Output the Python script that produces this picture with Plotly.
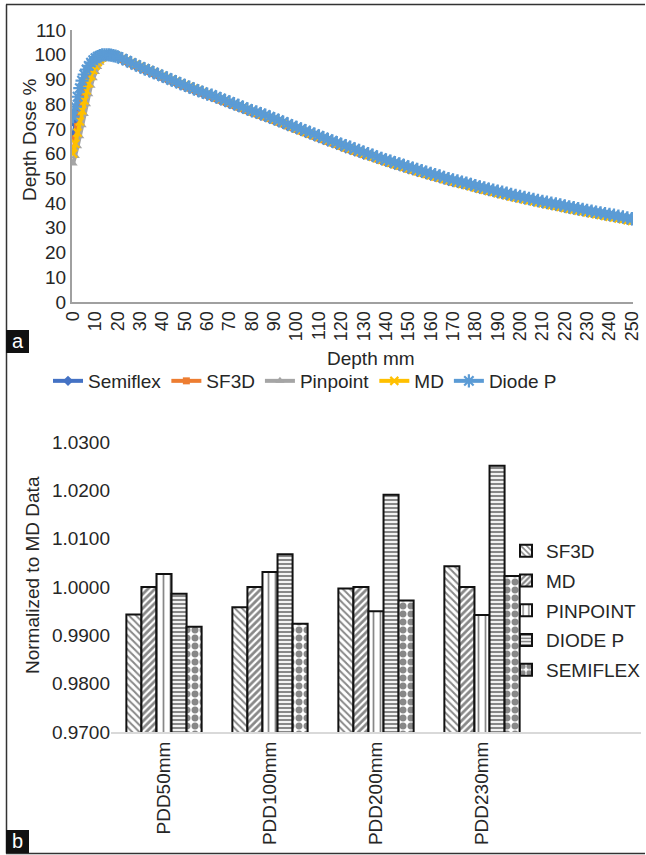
import plotly.graph_objects as go

W, H = 646, 855
FONT = "Liberation Sans, Arial, sans-serif"
TXT = "#262626"

# ---------------- Panel a: depth dose curves ----------------
depth = list(range(0, 21)) + list(range(22, 251, 2))

semiflex = [67, 72, 77, 82, 86, 89, 91.5, 93.5, 95, 96.3, 97.3, 98.2, 98.8, 99.3, 99.7, 99.9, 100, 99.9, 99.7, 99.4, 99.1,
            97.9, 97.1, 96.2, 95.4, 94.6, 93.8, 93.1, 92.3, 91.6, 90.8, 90.1, 89.3, 88.6, 87.8, 87.1,
            86.4, 85.7, 85.0, 84.3, 83.6, 82.9, 82.2, 81.5, 80.8, 80.1, 79.4, 78.7, 78.0, 77.3, 76.6,
            76.0, 75.3, 74.7, 74.0, 73.3, 72.6, 71.9, 71.1, 70.4, 69.7, 69.0, 68.3, 67.6, 66.9, 66.2,
            65.5, 64.8, 64.2, 63.5, 62.8, 62.1, 61.5, 60.8, 60.2, 59.5, 59.1, 58.5, 57.8, 57.2, 56.6,
            56.0, 55.4, 54.9, 54.3, 53.7, 53.2, 52.6, 52.1, 51.5, 51.0, 50.5, 50.0, 49.4, 48.9, 48.4,
            48.1, 47.6, 47.2, 46.7, 46.2, 45.7, 45.3, 44.8, 44.4, 43.9, 43.5, 43.1, 42.6, 42.2, 41.8,
            41.4, 41.0, 40.6, 40.2, 39.8, 39.5, 39.1, 38.8, 38.4, 38.0, 37.6, 37.3, 36.9, 36.6, 36.2,
            36.0, 35.6, 35.3, 34.9, 34.6, 34.3, 33.9, 33.6, 33.2, 32.9]

sf3d = [61, 66, 71, 76, 80.5, 84.5, 88, 91, 93.3, 95.2, 96.7, 97.9, 98.8, 99.4, 99.8, 100, 100, 99.8, 99.5, 99.2, 98.9,
        98.1, 97.3, 96.4, 95.6, 94.8, 94.0, 93.3, 92.5, 91.8, 91.0, 90.3, 89.5, 88.8, 88.0, 87.3,
        86.6, 85.9, 85.2, 84.5, 83.8, 83.1, 82.4, 81.7, 81.0, 80.3, 79.6, 78.9, 78.2, 77.5, 76.8,
        76.2, 75.5, 74.9, 74.2, 73.5, 72.8, 72.1, 71.3, 70.6, 69.9, 69.2, 68.5, 67.8, 67.1, 66.4,
        65.7, 65.0, 64.4, 63.7, 63.0, 62.3, 61.7, 61.0, 60.4, 59.7, 59.2, 58.6, 57.9, 57.3, 56.7,
        56.1, 55.5, 55.0, 54.4, 53.8, 53.3, 52.7, 52.2, 51.6, 51.1, 50.6, 50.1, 49.5, 49.0, 48.5,
        48.1, 47.6, 47.2, 46.7, 46.2, 45.7, 45.3, 44.8, 44.4, 43.9, 43.5, 43.1, 42.6, 42.2, 41.8,
        41.5, 41.1, 40.7, 40.3, 39.9, 39.5, 39.1, 38.8, 38.4, 38.0, 37.7, 37.4, 37.0, 36.7, 36.3,
        36.0, 35.6, 35.3, 34.9, 34.6, 34.3, 33.9, 33.6, 33.2, 32.9]

pinpoint = [56, 59, 63, 67, 71.5, 76, 80, 84, 87.5, 90.5, 93, 95, 96.8, 98, 99, 99.6, 100, 100, 99.9, 99.7, 99.5,
            98.7, 97.9, 97.0, 96.2, 95.4, 94.6, 93.9, 93.1, 92.4, 91.6, 90.9, 90.1, 89.4, 88.6, 87.9,
            87.2, 86.5, 85.8, 85.1, 84.4, 83.7, 83.0, 82.3, 81.6, 80.9, 80.2, 79.5, 78.8, 78.1, 77.4,
            76.7, 76.0, 75.4, 74.7, 74.0, 73.3, 72.6, 71.8, 71.1, 70.4, 69.7, 69.0, 68.3, 67.6, 66.9,
            66.2, 65.5, 64.9, 64.2, 63.5, 62.8, 62.2, 61.5, 60.9, 60.2, 59.4, 58.8, 58.1, 57.5, 56.9,
            56.3, 55.7, 55.2, 54.6, 54.0, 53.5, 52.9, 52.4, 51.8, 51.3, 50.8, 50.3, 49.7, 49.2, 48.7,
            48.0, 47.5, 47.1, 46.6, 46.1, 45.6, 45.2, 44.7, 44.3, 43.8, 43.4, 43.0, 42.5, 42.1, 41.7,
            41.3, 40.9, 40.5, 40.1, 39.7, 39.3, 38.9, 38.6, 38.2, 37.8, 37.4, 37.1, 36.7, 36.4, 36.0,
            35.7, 35.3, 35.0, 34.6, 34.3, 34.0, 33.6, 33.3, 32.9, 32.6]

md = [60, 64, 68.5, 73, 77.5, 81.5, 85.5, 88.5, 91.5, 93.7, 95.5, 97, 98.2, 99, 99.6, 99.9, 100, 99.9, 99.8, 99.6, 99.3,
      98.5, 97.7, 96.8, 96.0, 95.2, 94.4, 93.7, 92.9, 92.2, 91.4, 90.7, 89.9, 89.2, 88.4, 87.7,
      87.0, 86.3, 85.6, 84.9, 84.2, 83.5, 82.8, 82.1, 81.4, 80.7, 80.0, 79.3, 78.6, 77.9, 77.2,
      76.5, 75.8, 75.2, 74.5, 73.8, 73.1, 72.4, 71.6, 70.9, 70.2, 69.5, 68.8, 68.1, 67.4, 66.7,
      66.0, 65.3, 64.7, 64.0, 63.3, 62.6, 62.0, 61.3, 60.7, 60.0, 59.4, 58.8, 58.1, 57.5, 56.9,
      56.3, 55.7, 55.2, 54.6, 54.0, 53.5, 52.9, 52.4, 51.8, 51.3, 50.8, 50.3, 49.7, 49.2, 48.7,
      48.2, 47.7, 47.3, 46.8, 46.3, 45.8, 45.4, 44.9, 44.5, 44.0, 43.6, 43.2, 42.7, 42.3, 41.9,
      41.5, 41.1, 40.7, 40.3, 39.9, 39.5, 39.1, 38.8, 38.4, 38.0, 37.6, 37.3, 36.9, 36.6, 36.2,
      35.9, 35.5, 35.2, 34.8, 34.5, 34.2, 33.8, 33.5, 33.1, 32.8]

diode_p = [75, 79, 83, 86.5, 89.5, 92, 94, 95.5, 96.8, 97.8, 98.6, 99.2, 99.6, 99.9, 100, 100, 99.9, 99.8, 99.6, 99.4, 99.1,
           98.4, 97.6, 96.7, 95.9, 95.1, 94.3, 93.6, 92.8, 92.1, 91.3, 90.6, 89.8, 89.1, 88.3, 87.6,
           86.9, 86.2, 85.5, 84.8, 84.1, 83.7, 83.0, 82.3, 81.6, 80.9, 80.2, 79.5, 78.8, 78.1, 77.4,
           76.9, 76.2, 75.6, 74.9, 74.2, 73.5, 72.8, 72.0, 71.3, 70.6, 70.0, 69.3, 68.6, 67.9, 67.2,
           66.5, 65.8, 65.2, 64.5, 63.8, 63.2, 62.6, 61.9, 61.3, 60.6, 60.0, 59.4, 58.7, 58.1, 57.5,
           57.0, 56.4, 55.9, 55.3, 54.7, 54.2, 53.6, 53.1, 52.5, 52.0, 51.5, 51.0, 50.4, 49.9, 49.4,
           49.0, 48.5, 48.1, 47.6, 47.1, 46.6, 46.2, 45.7, 45.3, 44.8, 44.4, 44.0, 43.5, 43.1, 42.7,
           42.3, 41.9, 41.5, 41.1, 40.7, 40.4, 40.0, 39.7, 39.3, 38.9, 38.5, 38.2, 37.8, 37.5, 37.1,
           36.8, 36.4, 36.1, 35.7, 35.4, 35.1, 34.7, 34.4, 34.0, 33.7]

top_series = [
    ("Semiflex", semiflex, "#4472C4", "diamond", 8),
    ("SF3D", sf3d, "#ED7D31", "square", 7),
    ("Pinpoint", pinpoint, "#A5A5A5", "triangle-up", 8),
    ("MD", md, "#FFC000", "x-thin-open", 8),
    ("Diode P", diode_p, "#5B9BD5", "asterisk-open", 11),
]
depth_ticks = list(range(0, 251, 10))

# ---------------- Panel b: normalized bars ----------------
pdd_labels = ["PDD50mm", "PDD100mm", "PDD200mm", "PDD230mm"]
b_sf3d = [0.9943, 0.9958, 0.9997, 1.0043]
b_md = [1.0000, 1.0000, 1.0000, 1.0000]
b_pinpoint = [1.0027, 1.0031, 0.9950, 0.9942]
b_diode = [0.9986, 1.0068, 1.0191, 1.0251]
b_semiflex = [0.9918, 0.9924, 0.9972, 1.0023]

bar_series = [
    ("SF3D", b_sf3d, dict(shape="\\", size=5, solidity=0.4)),
    ("MD", b_md, dict(shape="/", size=5, solidity=0.55)),
    ("PINPOINT", b_pinpoint, dict(shape="|", size=7, solidity=0.25)),
    ("DIODE P", b_diode, dict(shape="-", size=4, solidity=0.55)),
    ("SEMIFLEX", b_semiflex, dict(shape=".", size=8, solidity=0.6)),
]


def px(x):
    return x / W


def py(y):
    return 1 - y / H


fig = go.Figure()

for name, vals, col, sym, sz in top_series:
    marker = dict(symbol=sym, size=sz, color=col)
    if sym.endswith("open"):
        marker["line"] = dict(width=2.2, color=col)
    fig.add_trace(go.Scatter(
        x=depth, y=vals, name=name, mode="lines+markers",
        line=dict(color=col, width=4), marker=marker,
        xaxis="x", yaxis="y", legend="legend"))

for i, (name, vals, pat) in enumerate(bar_series):
    fig.add_trace(go.Bar(
        x=list(range(len(pdd_labels))), y=vals, name=name,
        marker=dict(color="white", line=dict(color="#111111", width=2),
                    pattern=dict(fgcolor="#111111", bgcolor="white", fillmode="overlay", **pat)),
        xaxis="x2", yaxis="y2", legend="legend2", legendgroup=name))

axis_font = dict(family=FONT, size=19, color=TXT)

fig.update_layout(
    width=W, height=H,
    margin=dict(l=0, r=0, t=0, b=0, pad=0, autoexpand=False),
    paper_bgcolor="white", plot_bgcolor="white",
    font=dict(family=FONT, size=19, color=TXT),
    barmode="group", bargap=0.29, bargroupgap=0,
    xaxis=dict(domain=[px(72), px(633)], range=[-0.5, 250.5], tickvals=depth_ticks,
               tickangle=-90, tickfont=dict(family=FONT, size=18, color=TXT),
               showline=True, linecolor="#A0A0A0", linewidth=2, showgrid=False,
               zeroline=False, ticks="", anchor="y", automargin=False),
    yaxis=dict(domain=[py(302), py(30)], range=[0, 110], dtick=10,
               tickfont=axis_font, showline=True, linecolor="#A0A0A0", linewidth=2,
               showgrid=False, zeroline=False, ticks="", anchor="x", automargin=False),
    xaxis2=dict(domain=[px(111), px(641)], range=[-0.5, 4.5], tickvals=[0, 1, 2, 3],
                ticktext=pdd_labels, tickangle=-90, tickfont=axis_font,
                showline=True, linecolor="#D9D9D9", linewidth=2, showgrid=False,
                zeroline=False, ticks="", anchor="y2", automargin=False),
    yaxis2=dict(domain=[py(732), py(442)], range=[0.97, 1.03], dtick=0.01, tickformat=".4f",
                tickfont=axis_font, showline=False, showgrid=False, zeroline=False,
                ticks="", anchor="x2", automargin=False),
    legend=dict(orientation="h", x=px(48), y=py(381), xanchor="left", yanchor="middle",
                font=dict(family=FONT, size=19, color=TXT), itemwidth=30,
                bgcolor="rgba(0,0,0,0)"),
    legend2=dict(orientation="v", x=px(506), y=py(532), xanchor="left", yanchor="top",
                 font=dict(family=FONT, size=19, color=TXT), itemwidth=30,
                 tracegroupgap=2, bgcolor="rgba(0,0,0,0)"),
    showlegend=True,
)

annotations = [
    dict(text="Depth mm", x=px(371), y=py(358), xref="paper", yref="paper",
         xanchor="center", yanchor="middle",
         showarrow=False, font=dict(family=FONT, size=19, color=TXT)),
    dict(text="Depth Dose %", x=px(29), y=py(140), xref="paper", yref="paper",
         xanchor="center", yanchor="middle",
         showarrow=False, textangle=-90, font=dict(family=FONT, size=19, color=TXT)),
    dict(text="Normalized to MD Data", x=px(32), y=py(575), xref="paper", yref="paper",
         xanchor="center", yanchor="middle",
         showarrow=False, textangle=-90, font=dict(family=FONT, size=19, color=TXT)),
    dict(text="a", x=px(17.5), y=py(341), xref="paper", yref="paper",
         xanchor="center", yanchor="middle",
         showarrow=False, font=dict(family=FONT, size=20, color="white")),
    dict(text="b", x=px(17.5), y=py(841), xref="paper", yref="paper",
         xanchor="center", yanchor="middle",
         showarrow=False, font=dict(family=FONT, size=20, color="white")),
]
fig.update_layout(annotations=annotations)

shapes = [
    dict(type="line", xref="paper", yref="paper", x0=px(6), x1=px(645), y0=py(4.5), y1=py(4.5),
         line=dict(color="#333333", width=1.5)),
    dict(type="line", xref="paper", yref="paper", x0=px(6.5), x1=px(6.5), y0=py(4.5), y1=py(853.5),
         line=dict(color="#333333", width=1.5)),
    dict(type="line", xref="paper", yref="paper", x0=px(6), x1=px(645), y0=py(853.5), y1=py(853.5),
         line=dict(color="#333333", width=1.5)),
    dict(type="rect", xref="paper", yref="paper", x0=px(6), x1=px(29), y0=py(353), y1=py(330),
         fillcolor="#111111", line=dict(width=0)),
    dict(type="rect", xref="paper", yref="paper", x0=px(6), x1=px(29), y0=py(853), y1=py(830),
         fillcolor="#111111", line=dict(width=0)),
]
fig.update_layout(shapes=shapes)

fig.write_html("out.html")
